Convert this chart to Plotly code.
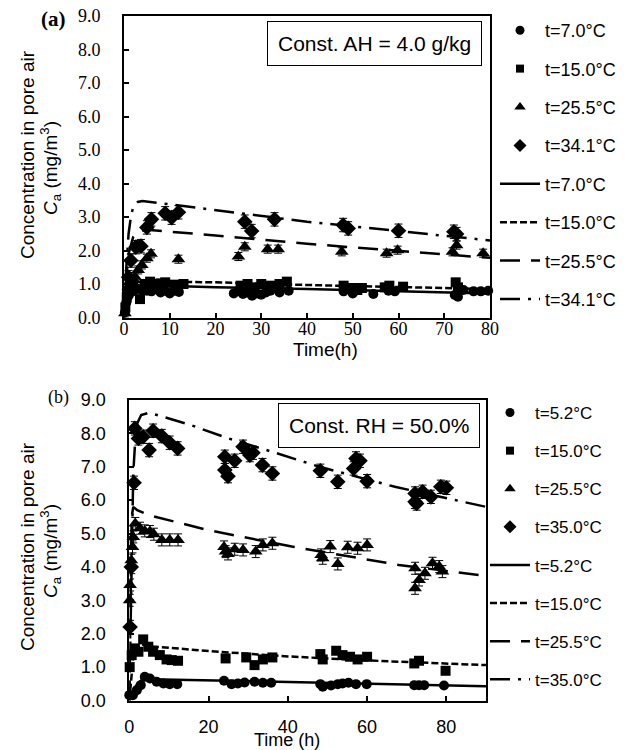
import plotly.graph_objects as go

W, H = 628, 750
# target pixel positions -> paper fractions (the page shows the figure shifted by 8 px)
def X(xr): return (xr - 8) / W
def Y(yr): return 1 - (yr - 8) / H

SANS = "Liberation Sans, Arial, sans-serif"
SERIF = "Liberation Serif, Times New Roman, serif"

# ---------------- Panel (a): Const. AH = 4.0 g/kg ----------------
a_names = ["t=7.0°C", "t=15.0°C", "t=25.5°C", "t=34.1°C"]

a7_t = [0.2, 0.5, 1.0, 1.5, 2.0, 3.0, 4.0, 5.0, 6.0, 7.0, 8.0, 9.0, 10.0, 11.0, 12.0,
        24.0, 25.0, 26.0, 27.0, 28.0, 29.0, 30.0, 31.0, 32.0, 34.0, 36.0,
        48.0, 50.0, 54.5, 57.8, 59.2, 72.3, 73.0, 74.2, 76.4, 78.0, 79.6]
a7_c = [0.15, 0.45, 0.65, 0.75, 0.8, 0.85, 0.82, 0.8, 0.78, 0.85, 0.75, 0.8, 0.72, 0.8, 0.76,
        0.72, 0.8, 0.7, 0.75, 0.65, 0.72, 0.68, 0.75, 0.8, 0.75, 0.8,
        0.78, 0.72, 0.7, 0.8, 0.78, 0.67, 0.62, 0.82, 0.78, 0.78, 0.8]

a15_t = [0.3, 0.6, 1.0, 1.5, 2.0, 3.5, 4.5, 5.7, 7.0, 8.0, 9.0, 11.0, 13.0,
         25.5, 27.0, 28.0, 30.0, 32.0, 34.0, 35.6,
         48.0, 49.0, 50.0, 51.0, 52.0, 57.0, 58.0, 61.0, 72.5, 73.0]
a15_c = [0.3, 0.6, 0.8, 0.95, 1.0, 0.55, 1.0, 1.07, 1.0, 1.02, 1.05, 0.98, 1.0,
         0.95, 1.0, 0.9, 1.0, 0.95, 1.0, 1.07,
         0.95, 0.85, 0.88, 0.82, 0.88, 0.9, 0.95, 0.92, 1.05, 0.9]

a25_t = [0.2, 0.95, 1.7, 2.4, 3.1, 3.9, 5.0, 5.9, 11.9, 25.0, 26.4, 31.4, 33.7,
         47.6, 57.4, 59.8, 71.8, 72.7, 78.5]
a25_c = [0.13, 0.92, 1.07, 1.22, 1.42, 1.57, 1.77, 1.9, 1.74, 1.82, 2.11, 2.04, 2.04,
         1.96, 1.92, 2.01, 1.96, 2.16, 1.92]

a34_t = [1.0, 1.5, 2.6, 3.7, 5.0, 6.0, 9.0, 10.4, 11.9, 26.4, 27.9, 32.9,
         47.9, 49.0, 60.0, 72.1, 72.7]
a34_c = [1.2, 1.7, 2.1, 2.13, 2.69, 2.93, 3.11, 2.98, 3.14, 2.86, 2.58, 2.93,
         2.76, 2.66, 2.59, 2.56, 2.49]

a_err = [0.04, 0.05, 0.12, 0.2]

af7_t = [0, 0.5, 1, 2, 5, 20, 40, 60, 80]
af7_c = [0, 0.6, 0.85, 0.95, 0.96, 0.9, 0.85, 0.78, 0.72]
af15_t = [0, 0.5, 1, 2, 5, 20, 40, 60, 80]
af15_c = [0, 0.7, 0.95, 1.05, 1.08, 1.05, 0.97, 0.9, 0.85]
af25_t = [0, 0.5, 1, 2, 3, 5, 20, 40, 60, 80]
af25_c = [0, 1.2, 1.9, 2.4, 2.58, 2.62, 2.45, 2.2, 1.99, 1.78]
af34_t = [0, 0.5, 1, 1.5, 2, 3, 4, 20, 40, 60, 80]
af34_c = [0, 1.5, 2.5, 3.0, 3.3, 3.45, 3.48, 3.2, 2.86, 2.58, 2.3]

# ---------------- Panel (b): Const. RH = 50.0% ----------------
b_names = ["t=5.2°C", "t=15.0°C", "t=25.5°C", "t=35.0°C"]

b5_t = [0.0, 0.9, 1.9, 2.9, 3.9, 5.2, 6.9, 8.6, 10.2, 12.1, 23.9, 25.8, 27.4, 29.1, 31.6,
        33.7, 35.8, 48.2, 48.8, 50.9, 52.6, 53.8, 55.3, 57.2, 59.9, 71.9, 73.1, 74.4, 79.4]
b5_c = [0.16, 0.16, 0.31, 0.46, 0.71, 0.66, 0.56, 0.51, 0.49, 0.49, 0.59, 0.49, 0.51, 0.54, 0.56,
        0.53, 0.53, 0.49, 0.41, 0.45, 0.49, 0.51, 0.53, 0.49, 0.49, 0.46, 0.46, 0.46, 0.45]

b15_t = [0.1, 0.6, 1.4, 2.3, 3.5, 4.8, 6.0, 7.7, 9.4, 10.7, 12.3, 24.3, 29.5, 31.6, 33.7,
         36.1, 48.2, 48.8, 52.2, 53.8, 55.7, 57.6, 60.0, 71.9, 73.1, 79.8]
b15_c = [1.0, 1.36, 1.56, 1.46, 1.83, 1.61, 1.46, 1.36, 1.23, 1.21, 1.19, 1.26, 1.29, 1.06, 1.23,
         1.29, 1.39, 1.23, 1.49, 1.36, 1.31, 1.23, 1.31, 1.11, 1.19, 0.89]

b25_t = [0.1, 0.2, 0.5, 0.8, 1.0, 1.5, 2.7, 3.9, 5.2, 6.2, 8.2, 10.2, 12.3,
         23.9, 24.3, 24.9, 26.6, 28.7, 31.9, 33.7, 36.1,
         48.4, 48.8, 50.7, 52.6, 55.1, 57.6, 60.0,
         72.1, 73.1, 72.1, 74.6, 76.5, 78.2, 79.0]
b25_c = [3.0, 3.46, 4.2, 4.6, 4.9, 5.3, 5.16, 5.08, 5.06, 4.98, 4.81, 4.81, 4.81,
         4.6, 4.46, 4.39, 4.53, 4.51, 4.46, 4.66, 4.71,
         4.36, 4.26, 4.61, 4.09, 4.59, 4.56, 4.66,
         3.96, 3.61, 3.36, 3.81, 4.11, 4.01, 3.86]

b35_t = [0.2, 0.5, 1.2, 1.4, 2.3, 3.5, 5.0, 6.0, 8.2, 10.2, 12.2,
         24.1, 24.1, 24.9, 26.6, 28.7, 30.4, 31.2, 33.6, 36.1,
         48.2, 52.6, 56.6, 57.2, 58.2, 60.0,
         72.1, 72.5, 72.1, 74.0, 76.1, 78.6, 80.0]
b35_c = [2.2, 4.0, 6.52, 8.15, 7.85, 7.9, 7.5, 8.08, 7.92, 7.72, 7.55,
         7.3, 6.9, 6.72, 7.18, 7.6, 7.35, 7.42, 7.05, 6.8,
         6.88, 6.55, 6.95, 7.25, 7.18, 6.57,
         5.95, 5.9, 6.2, 6.25, 6.1, 6.4, 6.37]

b_err = [0.04, 0.05, 0.18, 0.2]

bf5_t = [0, 1, 2, 3, 5, 20, 40, 60, 90]
bf5_c = [0, 0.3, 0.5, 0.6, 0.64, 0.6, 0.55, 0.5, 0.43]
bf15_t = [0, 0.5, 1, 2, 3, 6, 20, 40, 60, 90]
bf15_c = [0, 0.8, 1.3, 1.6, 1.68, 1.62, 1.48, 1.32, 1.2, 1.06]
bf25_t = [0, 0.3, 0.6, 1, 2, 5, 20, 41, 68, 90]
bf25_c = [0, 3.5, 5.5, 5.8, 5.7, 5.55, 5.1, 4.61, 4.06, 3.73]
bf35_t = [0, 0.3, 0.6, 1, 1.5, 2, 3, 5, 15, 25, 36, 48, 67, 90]
bf35_c = [0, 2.5, 5.0, 6.8, 7.8, 8.3, 8.55, 8.62, 8.27, 7.85, 7.45, 7.0, 6.4, 5.8]

symbols = ["circle", "square", "triangle-up", "diamond"]
sizes = [10, 10, 12, 12]
legend_sizes = [9, 8, 10, 10]
dashes = ["solid", "7px,3px", "20px,11px", "20px,8px,3px,8px"]

fig = go.Figure()

def add_panel(pts, fits, names, errs, xa, ya, leg):
    for i, ((t, c), name) in enumerate(zip(pts, names)):
        fig.add_trace(go.Scatter(
            x=t, y=c, mode="markers", name=name, showlegend=False,
            legendgroup=f"{leg}m{i}", cliponaxis=False,
            marker=dict(symbol=symbols[i], size=sizes[i], color="black"),
            error_y=dict(type="constant", value=errs[i], color="black",
                         thickness=1, width=4),
            xaxis=xa, yaxis=ya))
        fig.add_trace(go.Scatter(
            x=[None], y=[None], mode="markers", name=name, legend=leg,
            legendgroup=f"{leg}m{i}",
            marker=dict(symbol=symbols[i], size=legend_sizes[i], color="black"),
            xaxis=xa, yaxis=ya))
    for i, ((t, c), name) in enumerate(zip(fits, names)):
        fig.add_trace(go.Scatter(
            x=t, y=c, mode="lines", name=name, legend=leg,
            legendgroup=f"{leg}l{i}",
            line=dict(color="black", width=2.5, dash=dashes[i]),
            xaxis=xa, yaxis=ya))

add_panel([(a7_t, a7_c), (a15_t, a15_c), (a25_t, a25_c), (a34_t, a34_c)],
          [(af7_t, af7_c), (af15_t, af15_c), (af25_t, af25_c), (af34_t, af34_c)],
          a_names, a_err, "x", "y", "legend")
add_panel([(b5_t, b5_c), (b15_t, b15_c), (b25_t, b25_c), (b35_t, b35_c)],
          [(bf5_t, bf5_c), (bf15_t, bf15_c), (bf25_t, bf25_c), (bf35_t, bf35_c)],
          b_names, b_err, "x2", "y2", "legend2")

axis_common = dict(showline=True, linewidth=2, linecolor="black", mirror=True,
                   ticks="inside", ticklen=5, tickwidth=1.5, tickcolor="black",
                   showgrid=False, zeroline=False, automargin=False,
                   ticklabeloverflow="allow")

fig.update_layout(
    width=W, height=H, margin=dict(l=0, r=0, t=0, b=0, autoexpand=False),
    paper_bgcolor="white", plot_bgcolor="white",
    xaxis=dict(domain=[X(124), X(490)], range=[0, 80], dtick=10, tick0=0,
               anchor="y", ticklabelstandoff=-6,
               tickfont=dict(family=SERIF, size=18, color="black"), **axis_common),
    yaxis=dict(domain=[Y(317.5), Y(16)], range=[0, 9], dtick=1, tick0=0,
               tickformat=".1f", anchor="x", ticklabelstandoff=18,
               tickfont=dict(family=SERIF, size=18, color="black"), **axis_common),
    xaxis2=dict(domain=[X(129.3), X(486)], range=[0, 90], dtick=20, tick0=0,
                anchor="y2", ticklabelstandoff=9,
                tickfont=dict(family=SANS, size=18, color="black"), **axis_common),
    yaxis2=dict(domain=[Y(700.5), Y(400)], range=[0, 9], dtick=1, tick0=0,
                tickformat=".1f", anchor="x2", ticklabelstandoff=18,
                tickfont=dict(family=SANS, size=18, color="black"), **axis_common),
    legend=dict(x=(487) / W, y=1 - 4 / H, xanchor="left", yanchor="top",
                font=dict(family=SANS, size=18, color="black"),
                tracegroupgap=12, bgcolor="rgba(0,0,0,0)", itemwidth=40),
    legend2=dict(x=(477) / W, y=1 - 387 / H, xanchor="left", yanchor="top",
                 font=dict(family=SANS, size=17, color="black"),
                 tracegroupgap=13, bgcolor="rgba(0,0,0,0)", itemwidth=40),
)

ann = [
    dict(text="Const. AH = 4.0 g/kg", x=X(374.5), y=Y(43.5), font=dict(family=SANS, size=21),
         bordercolor="black", borderwidth=1, borderpad=10, bgcolor="white"),
    dict(text="Const. RH = 50.0%", x=X(378.5), y=Y(425.5), font=dict(family=SANS, size=21),
         bordercolor="black", borderwidth=1, borderpad=10, bgcolor="white"),
    dict(text="<b>(a)</b>", x=X(53.5), y=Y(19), font=dict(family=SERIF, size=21)),
    dict(text="(b)", x=X(58), y=Y(397), font=dict(family=SERIF, size=18)),
    dict(text="Concentration in pore air", x=X(28), y=Y(155), textangle=-90,
         font=dict(family=SANS, size=19)),
    dict(text="<i>C</i><sub>a</sub> (mg/m<sup>3</sup>)", x=X(50), y=Y(168), textangle=-90,
         font=dict(family=SANS, size=19)),
    dict(text="Concentration in pore air", x=X(27), y=Y(547), textangle=-90,
         font=dict(family=SANS, size=19)),
    dict(text="<i>C</i><sub>a</sub> (mg/m<sup>3</sup>)", x=X(50), y=Y(551), textangle=-90,
         font=dict(family=SANS, size=19)),
    dict(text="Time(h)", x=X(325), y=Y(350), font=dict(family=SANS, size=19)),
    dict(text="Time (h)", x=X(287), y=Y(740), font=dict(family=SANS, size=18)),
]
for a in ann:
    a.update(xref="paper", yref="paper", showarrow=False, xanchor="center", yanchor="middle")
    a["font"]["color"] = "black"
fig.update_layout(annotations=ann)

fig.write_html("out.html")
